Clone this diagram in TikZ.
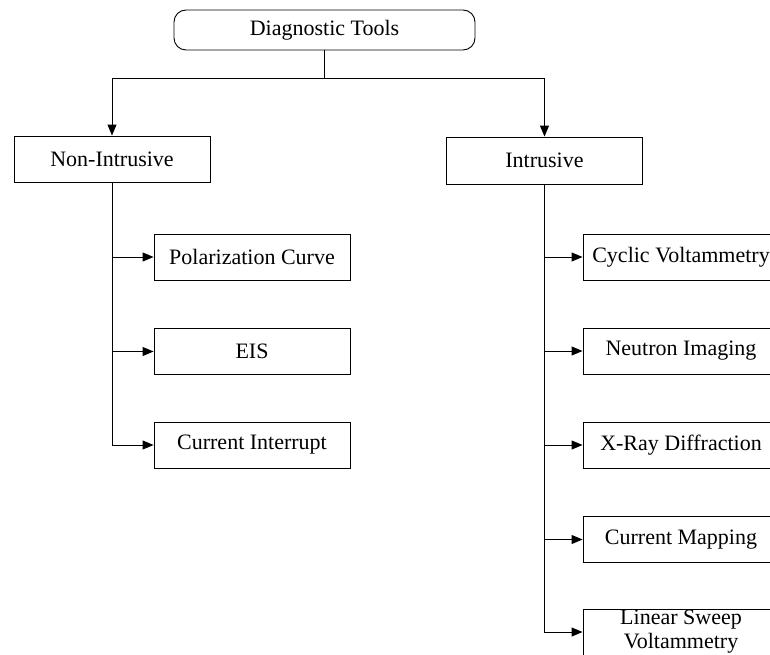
\documentclass[tikz,border=0pt]{standalone}
\usepackage{fontspec}
\setmainfont{Liberation Serif}
\usetikzlibrary{arrows.meta}
\begin{document}
\begin{tikzpicture}[x=1pt,y=-1pt,
  box/.style={draw,line width=0.9pt,minimum width=196pt,minimum height=46pt,inner sep=0pt,font=\fontsize{22}{24}\selectfont},
  root/.style={box,rounded corners=12pt,minimum width=301pt,minimum height=40pt},
  conn/.style={line width=1pt},
  arr/.style={conn,-{Triangle[length=11pt,width=9pt]}}]
\useasboundingbox (0,0) rectangle (770,655);
\clip (0,0) rectangle (770,655);
\node[root] (dt) at (324.5,30) {Diagnostic Tools};
\node[box,minimum height=46pt] (ni) at (112,159) {Non-Intrusive};
\node[box,minimum height=47pt] (in) at (544.5,160.5) {Intrusive};
\node[box] (pc) at (252,257) {Polarization Curve};
\node[box] (eis) at (252,351.5) {EIS};
\node[box] (ci) at (252,445) {Current Interrupt};
\node[box] (cv) at (681,257) {Cyclic Voltammetry};
\node[box] (nim) at (681,351) {Neutron Imaging};
\node[box] (xrd) at (681,445) {X-Ray Diffraction};
\node[box] (cm) at (681,539.5) {Current Mapping};
\node[box,align=center] (lsv) at (681,632) {Linear Sweep\\Voltammetry};
\coordinate (j) at (324.5,79);
\draw[conn] (dt.south) -- (j);
\draw[arr] (j) -| (ni.north);
\draw[arr] (j) -| (in.north);
\draw[arr] (ni.south) |- (pc.west);
\draw[arr] (ni.south) |- (eis.west);
\draw[arr] (ni.south) |- (ci.west);
\draw[arr] (in.south) |- (cv.west);
\draw[arr] (in.south) |- (nim.west);
\draw[arr] (in.south) |- (xrd.west);
\draw[arr] (in.south) |- (cm.west);
\draw[arr] (in.south) |- (lsv.west);
\end{tikzpicture}
\end{document}
